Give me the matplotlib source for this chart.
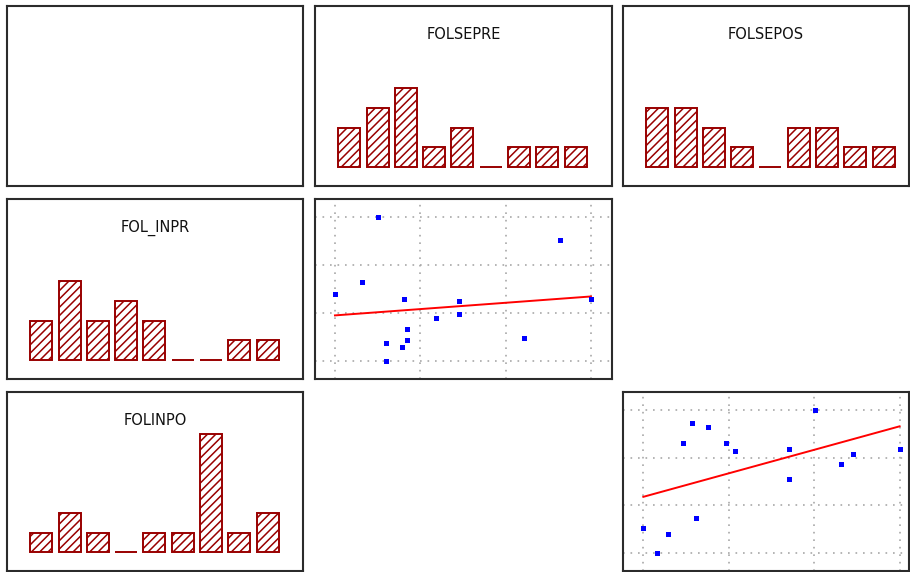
import numpy as np
import matplotlib
matplotlib.use("Agg")
import matplotlib.pyplot as plt

# ---- data ----
bins = np.arange(9)
folsepre_counts = [2, 3, 4, 1, 2, 0, 1, 1, 1]
folsepos_counts = [3, 3, 2, 1, 0, 2, 2, 1, 1]
fol_inpr_counts = [2, 4, 2, 3, 2, 0, 0, 1, 1]
folinpo_counts = [1, 2, 1, 0, 1, 1, 6, 1, 2]

# scatter 1: FOLSEPRE (x) vs FOL_INPR (y)
sc1_x = [0.51, 2.64, 0.32, 0.00, 0.81, 1.45, 3.00, 1.19, 1.45, 0.84, 0.60, 0.84, 0.79, 2.22, 0.60]
sc1_y = [3.00, 2.52, 1.65, 1.39, 1.30, 1.26, 1.30, 0.89, 0.97, 0.66, 0.38, 0.43, 0.30, 0.47, 0.00]
# scatter 2: FOLSEPOS (x) vs FOLINPO (y)
sc2_x = [2.01, 0.57, 0.76, 0.46, 0.97, 1.07, 1.70, 3.00, 2.45, 2.31, 1.70, 0.62, 0.00, 0.29, 0.16]
sc2_y = [3.00, 2.72, 2.64, 2.30, 2.30, 2.13, 2.17, 2.17, 2.07, 1.86, 1.56, 0.73, 0.52, 0.40, 0.00]

W, H = 910, 572
fig = plt.figure(figsize=(W / 100, H / 100), dpi=100)
fig.patch.set_facecolor("white")
plt.rcParams["hatch.linewidth"] = 1.1

cols = [(7, 296), (315, 297), (623, 286)]
rows = [(6, 180), (199, 180), (392, 179)]

FRAME = "#2b2b2b"
BAR = "#990000"


def make_ax(r, c):
    left, w = cols[c]
    top, h = rows[r]
    ax = fig.add_axes([left / W, 1 - (top + h) / H, w / W, h / H])
    for s in ax.spines.values():
        s.set_color(FRAME)
        s.set_linewidth(1.5)
    ax.set_xticks([])
    ax.set_yticks([])
    return ax


def hist_ax(r, c, counts, title):
    ax = make_ax(r, c)
    w_px = cols[c][1]
    left = -1.21
    ax.set_xlim(left, left + w_px / 28.3)
    ax.set_ylim(-0.95, 8.15)
    ax.bar(bins, counts, width=0.78, color="white", edgecolor=BAR,
           hatch="////", linewidth=1.4)
    ax.text(0.5, 0.84, title, transform=ax.transAxes, ha="center",
            va="center", fontsize=10.5, color="#111111")
    return ax


def scatter_ax(r, c, x, y, xlim, ylim):
    ax = make_ax(r, c)
    ax.set_xlim(*xlim)
    ax.set_ylim(*ylim)
    ax.set_xticks(np.linspace(min(x), max(x), 4))
    ax.set_yticks(np.linspace(min(y), max(y), 4))
    ax.tick_params(length=0, labelbottom=False, labelleft=False)
    ax.grid(True, color="#a8a8a8", linestyle=(0, (1.0, 3.5)), linewidth=1.2)
    ax.set_axisbelow(True)
    k, b = np.polyfit(x, y, 1)
    xs = np.array([min(x), max(x)])
    ax.plot(xs, k * xs + b, color="#ff0000", linewidth=1.4, zorder=3)
    ax.plot(x, y, linestyle="none", marker="s", markersize=3.6,
            color="#0000ff", markeredgewidth=0, zorder=4)
    return ax


# top-left empty frame
make_ax(0, 0)
hist_ax(0, 1, folsepre_counts, "FOLSEPRE")
hist_ax(0, 2, folsepos_counts, "FOLSEPOS")
hist_ax(1, 0, fol_inpr_counts, "FOL_INPR")
hist_ax(2, 0, folinpo_counts, "FOLINPO")
scatter_ax(1, 1, sc1_x, sc1_y, (-0.234, 3.247), (-0.375, 3.375))
scatter_ax(2, 2, sc2_x, sc2_y, (-0.238, 3.11), (-0.37, 3.37))

fig.savefig("out.png", dpi=100, facecolor="white")
